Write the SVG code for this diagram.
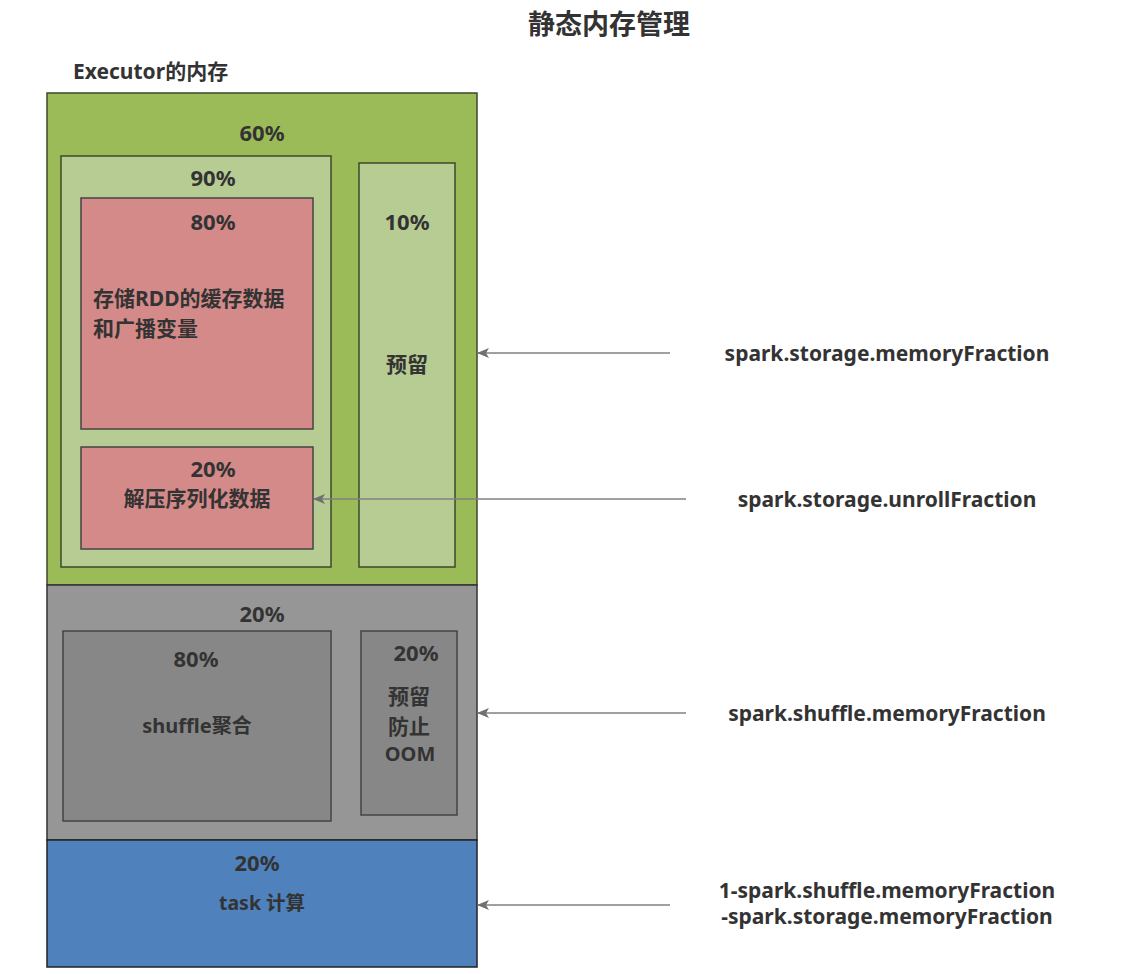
<svg xmlns="http://www.w3.org/2000/svg" width="1126" height="974" viewBox="0 0 1126 974">
<defs>
<style>
text{font-family:"Noto Sans","Noto Sans CJK SC",sans-serif;font-weight:bold;fill:#333;}
.t{font-size:21px;}
.p{font-size:22px;}
.c{text-anchor:middle;}
.box{stroke:#3d4a2a;stroke-width:1.5;}
.conn{stroke:#808080;stroke-width:1.5;fill:none;marker-end:url(#arr);}
</style>
<marker id="arr" markerWidth="12" markerHeight="10" refX="11" refY="5" orient="auto" markerUnits="userSpaceOnUse">
<path d="M0,0 L12,5 L0,10 L3,5 Z" fill="#707070"/>
</marker>
</defs>
<rect width="1126" height="974" fill="#fff"/>
<text x="609" y="34" class="c" font-size="27">静态内存管理</text>
<text x="73" y="79" font-size="21">Executor的内存</text>

<g id="executor">
<rect x="47" y="93" width="430" height="492" fill="#9bbb59" class="box"/>
<rect x="47" y="585" width="430" height="255" fill="#969696" stroke="#333" stroke-width="1.5"/>
<rect x="47" y="840" width="430" height="127" fill="#4f81bd" stroke="#222" stroke-width="1.5"/>
<text x="262" y="141" class="p c">60%</text>
<text x="262" y="622" class="p c">20%</text>
<text x="257" y="871" class="p c">20%</text>
<text x="262" y="910" class="c" font-size="19.5">task 计算</text>
</g>
<g id="storage90">
<rect x="61" y="156" width="270" height="411" fill="#b7cc93" class="box"/>
<text x="213" y="186" class="p c">90%</text>
</g>
<g id="rddcache">
<rect x="81" y="198" width="232" height="231" fill="#d38a89" stroke="#444" stroke-width="1.5"/>
<text x="213" y="230" class="p c">80%</text>
<text x="93" y="306" class="t">存储RDD的缓存数据</text>
<text x="93" y="336" class="t">和广播变量</text>
</g>
<g id="unroll">
<rect x="81" y="447" width="232" height="102" fill="#d38a89" stroke="#444" stroke-width="1.5"/>
<text x="213" y="477" class="p c">20%</text>
<text x="197" y="506" class="c t">解压序列化数据</text>
</g>
<g id="reserve10">
<rect x="359" y="163" width="96" height="404" fill="#b7cc93" class="box"/>
<text x="407" y="230" class="p c">10%</text>
<text x="407" y="372" class="c t">预留</text>
</g>
<g id="shuffle80">
<rect x="63" y="631" width="268" height="190" fill="#878787" stroke="#444" stroke-width="1.5"/>
<text x="196" y="667" class="p c">80%</text>
<text x="197" y="733" class="c" font-size="20">shuffle聚合</text>
</g>
<g id="shuffle20">
<rect x="361" y="631" width="96" height="184" fill="#878787" stroke="#444" stroke-width="1.5"/>
<text x="416" y="661" class="p c">20%</text>
<text x="409" y="704" class="c t">预留</text>
<text x="409" y="734" class="c t">防止</text>
<text x="410" y="761" class="c" font-size="20">OOM</text>
</g>

<g id="connectors">
<line x1="670" y1="353" x2="478" y2="353" class="conn"/>
<line x1="686" y1="499" x2="314" y2="499" class="conn"/>
<line x1="686" y1="713" x2="478" y2="713" class="conn"/>
<line x1="670" y1="905" x2="478" y2="905" class="conn"/>
</g>

<g id="labels">
<text x="887" y="361" class="t c">spark.storage.memoryFraction</text>
<text x="887" y="507" class="t c">spark.storage.unrollFraction</text>
<text x="887" y="721" class="t c">spark.shuffle.memoryFraction</text>
<text x="887" y="898" class="t c">1-spark.shuffle.memoryFraction</text>
<text x="887" y="924" class="t c">-spark.storage.memoryFraction</text>
</g>
</svg>
